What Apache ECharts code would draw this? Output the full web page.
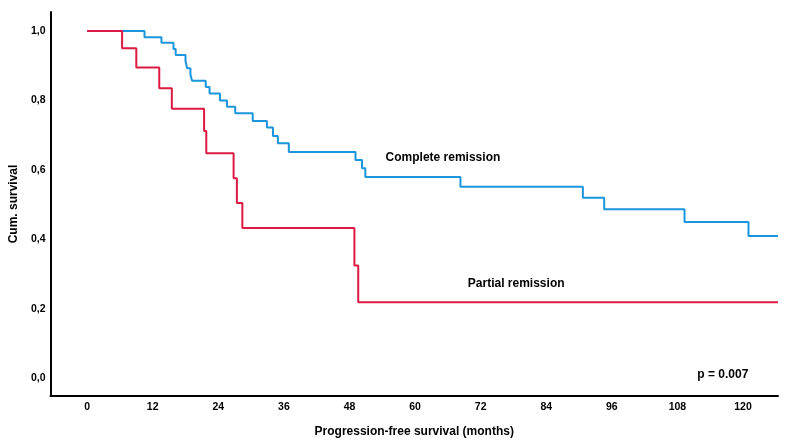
<!DOCTYPE html>
<html>
<head>
<meta charset="utf-8">
<script src="https://cdn.jsdelivr.net/npm/echarts@6/dist/echarts.min.js"></script>
<style>
html,body{margin:0;padding:0;background:#fff;}
#chart{width:787px;height:444px;}
</style>
</head>
<body>
<div id="chart"></div>
<script>
// Kaplan-Meier: Complete remission (time in months, cumulative survival)
var crMonths   = [0, 10.5, 13.6, 15.8, 16.2, 18.0, 18.3, 18.9, 19.2, 21.7, 22.4, 24.3, 25.6, 27.1, 30.3, 32.9, 34.0, 34.9, 36.9, 49.1, 50.3, 50.9, 68.3, 90.7, 94.6, 109.3, 121.0, 126.4];
var crSurvival = [1.0, 0.982, 0.966, 0.948, 0.931, 0.913, 0.893, 0.875, 0.857, 0.839, 0.820, 0.800, 0.782, 0.763, 0.741, 0.722, 0.698, 0.677, 0.652, 0.629, 0.605, 0.580, 0.552, 0.520, 0.487, 0.450, 0.410, 0.410];

// Kaplan-Meier: Partial remission
var prMonths   = [0, 6.4, 9.0, 13.2, 15.5, 21.4, 21.8, 26.8, 27.4, 28.4, 48.9, 49.6, 126.4];
var prSurvival = [1.0, 0.950, 0.895, 0.835, 0.776, 0.712, 0.648, 0.576, 0.505, 0.433, 0.325, 0.219, 0.219];

var xTicks = [0, 12, 24, 36, 48, 60, 72, 84, 96, 108, 120];
var yTicks = [0, 0.2, 0.4, 0.6, 0.8, 1.0];

var seriesNames = ['Complete remission', 'Partial remission'];
var pValueText = 'p = 0.007';
// annotation anchor points (months, survival)
var crLabelAt = [65.1, 0.636];
var prLabelAt = [78.5, 0.274];
var pLabelAt  = [116.3, 0.010];

function pairs(xs, ys){ return xs.map(function(x,i){ return [x, ys[i]]; }); }

var FONT = "'Liberation Sans', Arial, sans-serif";
var txt = {fontFamily: FONT, fontWeight: 'bold', fontSize: 12, color: '#000'};
function annLabel(text){
  return {show: true, position: 'inside', formatter: text, fontFamily: FONT, fontWeight: 'bold',
          fontSize: 12, color: '#000', textBorderWidth: 0, textShadowBlur: 0};
}

var chart = echarts.init(document.getElementById('chart'), null, {renderer: 'canvas'});
chart.setOption({
  animation: false,
  backgroundColor: '#fff',
  grid: {left: 50, right: 9, top: 12, bottom: 48, containLabel: false},
  xAxis: {
    type: 'value', min: -6.7, max: 126.4,
    name: 'Progression-free survival (months)',
    nameLocation: 'middle', nameGap: 30,
    nameTextStyle: txt,
    axisLine: {show: true, onZero: false, lineStyle: {color: '#000', width: 2}},
    axisTick: {show: false},
    splitLine: {show: false},
    axisLabel: {customValues: xTicks, margin: 6, fontFamily: FONT, fontWeight: 'bold', fontSize: 10.5, color: '#000'}
  },
  yAxis: {
    type: 'value', min: -0.0507, max: 1.0547,
    name: 'Cum. survival',
    nameLocation: 'middle', nameGap: 30, nameRotate: 90,
    nameTextStyle: txt,
    axisLine: {show: true, onZero: false, lineStyle: {color: '#000', width: 2}},
    axisTick: {show: false},
    splitLine: {show: false},
    axisLabel: {customValues: yTicks, margin: 5, fontFamily: FONT, fontWeight: 'bold', fontSize: 10.5, color: '#000',
      formatter: function(v){ return v.toFixed(1).replace('.', ','); }}
  },
  series: [
    {
      name: seriesNames[0], type: 'line', step: 'end', symbol: 'none',
      data: pairs(crMonths, crSurvival),
      lineStyle: {color: '#1b96dc', width: 2},
      markPoint: {symbol: 'circle', symbolSize: 0, silent: true,
        label: annLabel(seriesNames[0]),
        data: [{coord: crLabelAt}]}
    },
    {
      name: seriesNames[1], type: 'line', step: 'end', symbol: 'none',
      data: pairs(prMonths, prSurvival),
      lineStyle: {color: '#dc1a44', width: 2},
      markPoint: {symbol: 'circle', symbolSize: 0, silent: true,
        label: annLabel(seriesNames[1]),
        data: [{coord: prLabelAt}, {coord: pLabelAt, label: annLabel(pValueText)}]}
    }
  ]
});
</script>
</body>
</html>
